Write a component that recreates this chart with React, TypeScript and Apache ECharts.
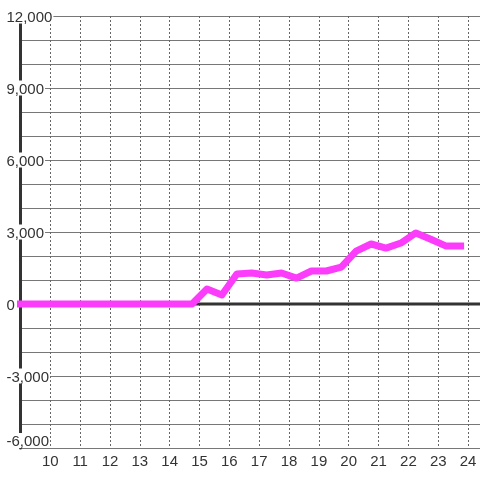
import React, { useEffect, useRef } from "react";
import * as echarts from "echarts";

const hours = [9, 9.25, 9.75, 10.25, 10.75, 11.25, 11.75, 12.25, 12.75, 13.25, 13.75, 14.25, 14.75, 15.25, 15.75, 16.25, 16.75, 17.25, 17.75, 18.25, 18.75, 19.25, 19.75, 20.25, 20.75, 21.25, 21.75, 22.25, 22.75, 23.25, 23.75];
const values = [0, 0, 0, 0, 0, 0, 0, 0, 0, 0, 0, 0, 0, 625, 375, 1250, 1290, 1210, 1290, 1080, 1375, 1375, 1540, 2200, 2500, 2330, 2540, 2960, 2700, 2420, 2420];
const xMin = 9;
const xMax = 24.4;
const yMin = -6000;
const yMax = 12000;

export default function App() {
  const ref = useRef<HTMLDivElement>(null);
  useEffect(() => {
    if (!ref.current) return;
    const chart = echarts.init(ref.current, null, { renderer: "svg" });
    const font = "'Liberation Sans', Arial, sans-serif";
    chart.setOption({
      animation: false,
      grid: { left: 20.5, right: -1.5, top: 16, bottom: 32, containLabel: false },
      xAxis: {
        type: "value",
        min: xMin,
        max: xMax,
        interval: 1,
        axisLine: { show: false },
        axisTick: { show: false },
        axisLabel: {
          color: "#333",
          fontSize: 15,
          fontFamily: font,
          margin: 5,
          showMinLabel: false,
          showMaxLabel: false,
          formatter: (v: number) => (Number.isInteger(v) && v > xMin ? String(v) : ""),
        },
        splitLine: { show: true, lineStyle: { color: "#666", width: 1, type: [2, 2] } },
      },
      yAxis: {
        type: "value",
        min: yMin,
        max: yMax,
        interval: 3000,
        axisLine: { show: true, onZero: false, lineStyle: { color: "#333", width: 3 } },
        axisTick: { show: false },
        axisLabel: {
          color: "#333",
          fontSize: 15,
          fontFamily: font,
          align: "left",
          margin: 15,
          backgroundColor: "#fff",
          padding: [0, 1],
          verticalAlignMinLabel: "bottom",
          formatter: (v: number) => v.toLocaleString("en-US"),
        },
        splitLine: { show: true, lineStyle: { color: "#777", width: 1 } },
        minorTick: { show: false, splitNumber: 3 },
        minorSplitLine: { show: true, lineStyle: { color: "#777", width: 1 } },
      },
      series: [
        {
          type: "line",
          data: [[xMin, 0], [xMax, 0]],
          symbol: "none",
          silent: true,
          z: 1,
          lineStyle: { color: "#333", width: 3 },
        },
        {
          type: "line",
          data: hours.map((h, i) => [h, values[i]]),
          symbol: "none",
          clip: false,
          z: 3,
          lineStyle: { color: "#fb3cfb", width: 7, cap: "square", join: "round" },
        },
      ],
    });
    return () => chart.dispose();
  }, []);
  return <div ref={ref} style={{ position: "fixed", left: 0, top: 0, width: 480, height: 480 }} />;
}
